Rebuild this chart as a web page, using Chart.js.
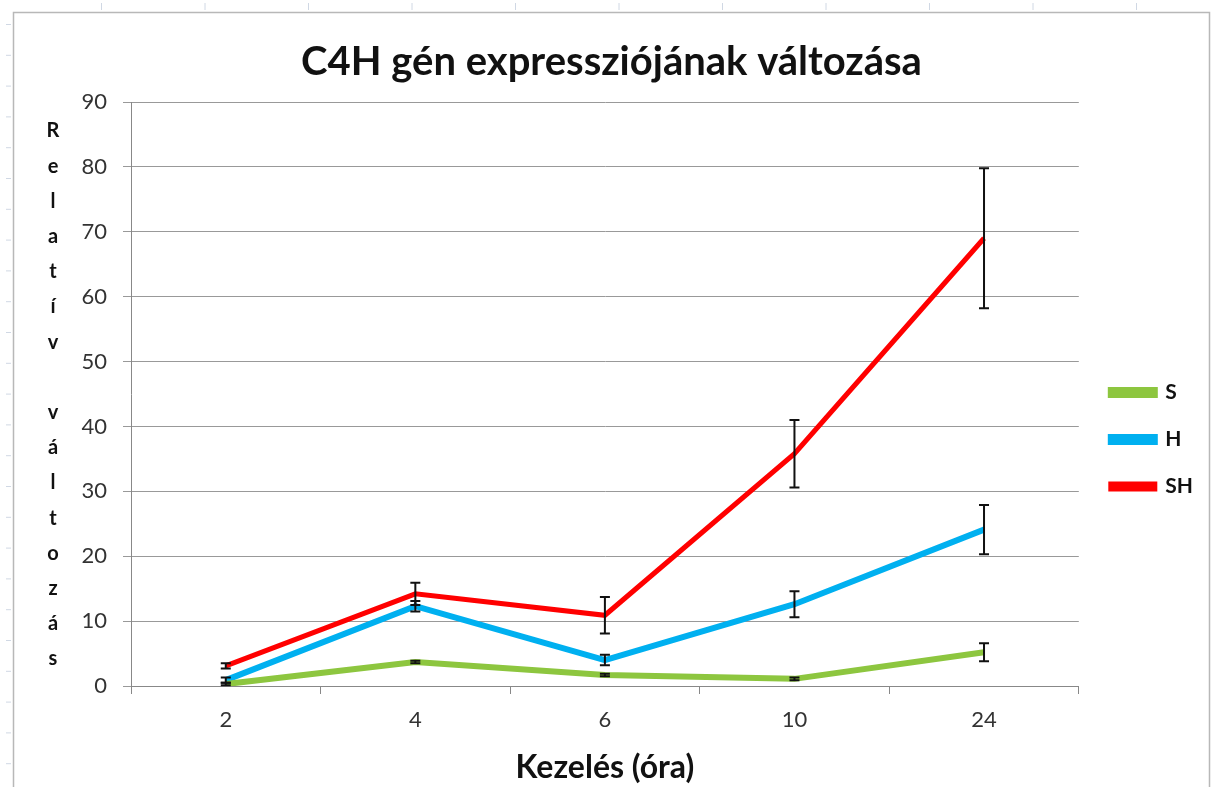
<!DOCTYPE html>
<html><head><meta charset="utf-8">
<script src="https://cdn.jsdelivr.net/npm/chart.js@4.4.1/dist/chart.umd.min.js"></script>
<style>html,body{margin:0;padding:0;background:#fff}#wrap{width:1212px;height:787px}</style>
</head><body><div id="wrap"><canvas id="c" width="1212" height="787"></canvas></div>
<script>
const categories = ['2', '4', '6', '10', '24'];
const sValues  = [0.3, 3.7, 1.7, 1.1, 5.2];
const sErrors  = [0.2, 0.2, 0.2, 0.2, 1.4];
const hValues  = [0.9, 12.3, 4.0, 12.6, 24.1];
const hErrors  = [0.4, 0.8, 0.8, 2.0, 3.8];
const shValues = [3.1, 14.2, 10.9, 35.8, 69.0];
const shErrors = [0.4, 1.7, 2.8, 5.2, 10.8];
const yTicks = [0, 10, 20, 30, 40, 50, 60, 70, 80, 90];
const yTitleLetters = ['R','e','l','a','t','í','v','','v','á','l','t','o','z','á','s'];
const FONT = 'Lato, "Open Sans", sans-serif';

const errorBarPlugin = {
  id: 'errorBars',
  afterDatasetsDraw(chart) {
    const ctx = chart.ctx;
    const y = chart.scales.y;
    chart.data.datasets.forEach((ds, di) => {
      const meta = chart.getDatasetMeta(di);
      if (meta.hidden) return;
      ds.errors.forEach((e, i) => {
        const pt = meta.data[i];
        const x = pt.x;
        const top = y.getPixelForValue(ds.data[i] + e);
        const bot = y.getPixelForValue(ds.data[i] - e);
        ctx.save();
        ctx.strokeStyle = '#111';
        ctx.lineWidth = 2;
        ctx.beginPath();
        ctx.moveTo(x, top); ctx.lineTo(x, bot);
        ctx.moveTo(x - 5, top); ctx.lineTo(x + 5, top);
        ctx.moveTo(x - 5, bot); ctx.lineTo(x + 5, bot);
        ctx.stroke();
        ctx.restore();
      });
    });
  }
};

const shiftPlugin = {
  id: 'shiftBoxes',
  afterLayout(chart) {
    if (chart.legend) { chart.legend.left += 6; chart.legend.right += 6; }
    if (chart.titleBlock) { chart.titleBlock.left += 13; chart.titleBlock.right += 13; }
  }
};

const framePlugin = {
  id: 'frame',
  beforeDraw(chart) {
    const ctx = chart.ctx;
    ctx.save();
    ctx.fillStyle = '#fff';
    ctx.fillRect(0, 0, chart.width, chart.height);
    ctx.strokeStyle = '#b8b8b8';
    ctx.lineWidth = 1.5;
    ctx.beginPath();
    ctx.moveTo(13.5, 787); ctx.lineTo(13.5, 12.5); ctx.lineTo(1209.5, 12.5); ctx.lineTo(1209.5, 787);
    ctx.stroke();
    ctx.strokeStyle = '#d0d8e4';
    ctx.lineWidth = 1;
    ctx.beginPath();
    for (let yy = 24; yy < 787; yy += 30.8) { ctx.moveTo(6, yy + 0.5); ctx.lineTo(11, yy + 0.5); }
    for (let xx = 101; xx < 1200; xx += 103.5) { ctx.moveTo(xx + 0.5, 3); ctx.lineTo(xx + 0.5, 10); }
    ctx.stroke();
    ctx.restore();
  },
  afterDraw(chart) {
    const ctx = chart.ctx;
    ctx.save();
    ctx.fillStyle = '#111';
    ctx.font = 'bold 20px ' + FONT;
    ctx.textAlign = 'center';
    ctx.textBaseline = 'middle';
    yTitleLetters.forEach((ch, i) => {
      ctx.fillText(ch, 53, 131 + i * 35.2);
    });
    ctx.restore();
  }
};

new Chart(document.getElementById('c'), {
  type: 'line',
  data: {
    labels: categories,
    datasets: [
      { label: 'S', data: sValues, errors: sErrors, borderColor: '#8DC63F', backgroundColor: '#8DC63F', borderWidth: 6, pointRadius: 0, tension: 0 },
      { label: 'H', data: hValues, errors: hErrors, borderColor: '#00B0F0', backgroundColor: '#00B0F0', borderWidth: 6, pointRadius: 0, tension: 0 },
      { label: 'SH', data: shValues, errors: shErrors, borderColor: '#FF0000', backgroundColor: '#FF0000', borderWidth: 5, pointRadius: 0, tension: 0 }
    ]
  },
  options: {
    responsive: false,
    animation: false,
    layout: { padding: { left: 0, right: 15, top: 0, bottom: 0 } },
    plugins: {
      title: {
        display: true,
        text: 'C4H gén expressziójának változása',
        font: { family: FONT, size: 40, weight: 'bold' },
        color: '#111',
        padding: { top: 38, bottom: 16 }
      },
      legend: {
        position: 'right',
        align: 'center',
        title: { display: true, text: ' ', padding: { top: 40, bottom: 40 }, font: { size: 10 } },
        labels: {
          boxWidth: 44, boxHeight: 5,
          font: { family: FONT, size: 21, weight: 'bold' },
          color: '#111',
          padding: 26
        }
      },
      tooltip: { enabled: false }
    },
    scales: {
      x: {
        offset: true,
        grid: { display: true, offset: true, drawOnChartArea: false, drawTicks: true, tickLength: 8, color: '#888' },
        border: { color: '#888', width: 1 },
        ticks: { font: { family: FONT, size: 22 }, color: '#333', padding: 13 },
        title: { display: true, text: 'Kezelés (óra)', font: { family: FONT, size: 32, weight: 'bold' }, color: '#111', padding: { top: 0, bottom: 0 } },
        afterFit(scale) { scale.height = 101; }
      },
      y: {
        min: 0, max: 90,
        afterBuildTicks(scale) { scale.ticks = yTicks.map(v => ({ value: v })); },
        grid: { color: '#999', lineWidth: 1, tickLength: 8 },
        border: { color: '#888', width: 1 },
        ticks: { font: { family: FONT, size: 22 }, color: '#333', padding: 16 },
        afterFit(scale) { scale.width = 131; }
      }
    }
  },
  plugins: [framePlugin, shiftPlugin, errorBarPlugin]
});
</script>
</body></html>
